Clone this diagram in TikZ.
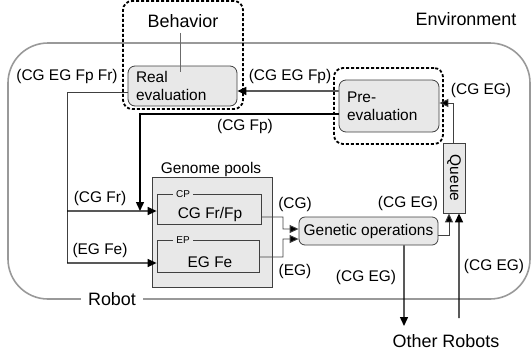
\documentclass[tikz,border=0pt]{standalone}
\usepackage{fontspec}
\setmainfont{Liberation Sans}
\usetikzlibrary{arrows.meta,calc}
\definecolor{boxfill}{HTML}{E8E8E8}
\definecolor{boxline}{HTML}{404040}
\definecolor{framegray}{HTML}{999999}
\tikzset{
  txt/.style={font=\fontsize{15.5}{18}\selectfont, inner sep=0pt},
  bigtxt/.style={font=\fontsize{18}{21}\selectfont, inner sep=0pt},
  gbox/.style={draw=boxline, fill=boxfill, rounded corners=7bp, line width=0.8bp},
  sbox/.style={draw=boxline, fill=boxfill, line width=0.8bp},
  dbox/.style={draw=black, rounded corners=9bp, line width=1.8bp, dash pattern=on 3bp off 2bp},
  arr/.style={draw=black, line width=1.4bp, -{Triangle[length=9bp,width=8bp]}},
  tline/.style={draw=boxline, line width=0.9bp},
  tarr/.style={draw=boxline, line width=0.9bp, -{Triangle[length=9bp,width=8bp,fill=black]}},
}
\begin{document}
\begin{tikzpicture}[x=1bp,y=-1bp]
\useasboundingbox (0,0) rectangle (532,356);
% robot frame
\draw[framegray, line width=1.6bp, rounded corners=40bp] (8,43) rectangle (530,299);
\node[bigtxt, fill=white, inner xsep=7bp, inner ysep=2bp] (robot) at (112,299) {Robot};
\node[bigtxt] (env) at (466,19) {Environment};
% behavior
\node[dbox, minimum width=120bp, minimum height=108bp] (behbox) at (183,55) {};
\node[bigtxt] (behtxt) at (183,21) {Behavior};
\node[gbox, txt, text width=93bp, inner xsep=8bp, align=left, minimum height=40bp] (realeval) at (182.5,86) {Real\\evaluation};
\draw[framegray!70!black, line width=0.9bp] ([xshift=-3bp,yshift=-5bp]behtxt.south) -- ([xshift=-2.5bp,yshift=-6bp]realeval.north);
% pre-evaluation
\node[dbox, minimum width=109bp, minimum height=76bp] (prebox) at (388.5,106) {};
\node[gbox, txt, text width=84bp, inner xsep=8bp, align=left, minimum height=52bp] (preeval) at (389,106) {Pre-\\evaluation};
% queue
\node[sbox, minimum width=22bp, minimum height=70bp, inner sep=0pt] (queue) at (454,178) {};
\node[txt, rotate=-90] (queuetxt) at (queue) {Queue};
% genetic operations
\node[gbox, txt, minimum width=139bp, minimum height=28bp, rounded corners=6bp] (genops) at (368.5,231) {Genetic operations};
% genome pools
\node[sbox, minimum width=120bp, minimum height=110bp] (pools) at (212,232) {};
\node[txt] (poolstxt) at (211,169) {Genome pools};
\node[sbox, minimum width=104bp, minimum height=30bp] (cp) at (209,209) {};
\node[txt] (cptxt) at (210,214) {CG Fr/Fp};
\node[fill=boxfill, inner xsep=3bp, inner ysep=0pt, font=\fontsize{10}{12}\selectfont] (cplab) at (183,194) {CP};
\node[sbox, minimum width=102bp, minimum height=32bp] (ep) at (208,256) {};
\node[txt] (eptxt) at (210,262) {EG Fe};
\node[fill=boxfill, inner xsep=3bp, inner ysep=0pt, font=\fontsize{10}{12}\selectfont] (eplab) at (183,240) {EP};
% coordinates
\coordinate (jfp) at (140,211);
\coordinate (lbot) at (67,263);
\coordinate (lmid) at (67,211);
\coordinate (orin) at (459,318);
\coordinate (orout) at (404,326);
\node[bigtxt] (others) at (446,341) {Other Robots};
% connectors
\draw[arr] ([yshift=15bp]preeval.west) -- ([yshift=-5bp]realeval.east);
\draw[arr] ([yshift=-8bp]preeval.west) -| (jfp);
\draw[tline] ([yshift=-6bp]realeval.west) -| (lbot);
\draw[arr] (lbot) -- ([yshift=-7bp]ep.west);
\draw[arr] (lmid) -- ([yshift=-2bp]cp.west);
\draw[tarr] ([yshift=-8bp]cp.east) -- (283,217) -- (283,229) -- ([yshift=2bp]genops.west);
\draw[tarr] ([yshift=-1bp]ep.east) -- (283,257) -- (283,239) -- ([yshift=-8bp]genops.west);
\draw[tarr] ([yshift=-4bp]genops.east) -| ([xshift=-5bp]queue.south);
\draw[arr] (orin) -- ([xshift=5bp]queue.south);
\draw[arr] ([xshift=35.5bp]genops.south) -- (orout);
\draw[tarr] ([xshift=-1bp]queue.north) |- ([yshift=3bp]preeval.east);
% labels
\node[txt] (l1) at (67,77) {(CG EG Fp Fr)};
\node[txt] (l2) at (290,77) {(CG EG Fp)};
\node[txt] (l3) at (245,127) {(CG Fp)};
\node[txt] (l4) at (481,90) {(CG EG)};
\node[txt] (l5) at (100,198) {(CG Fr)};
\node[txt] (l6) at (100,250) {(EG Fe)};
\node[txt] (l7) at (295,204) {(CG)};
\node[txt] (l8) at (295,271) {(EG)};
\node[txt] (l9) at (408,203) {(CG EG)};
\node[txt] (l10) at (366,277) {(CG EG)};
\node[txt] (l11) at (494,266) {(CG EG)};
\end{tikzpicture}
\end{document}
